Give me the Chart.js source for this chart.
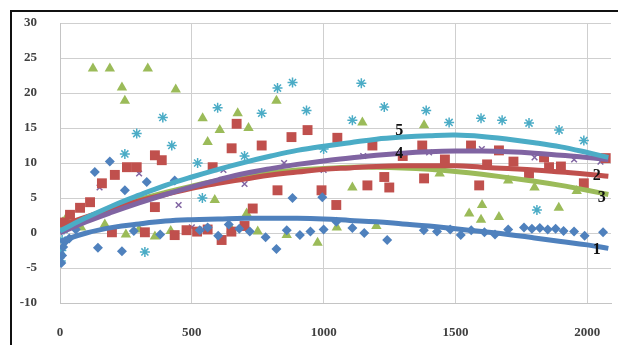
<!DOCTYPE html>
<html lang="en">
<head>
  <meta charset="UTF-8">
  <title>Scatter with trendlines</title>
  <script src="https://cdn.jsdelivr.net/npm/chart.js"></script>
  <style>
    body { margin: 0; background: white; }
    .frame {
      position: absolute;
      left: 10px;
      top: 10px;
      width: 620px;
      height: 340px;
      border-left: 2px solid #111;
      border-top: 2px solid #111;
    }
    .wrap { position: absolute; left: 0; top: 0; width: 618px; height: 345px; }
  </style>
</head>
<body>
  <div class="frame"></div>
  <div class="wrap"><canvas id="chart" width="618" height="345"></canvas></div>
  <script>
    // axis ticks
    const xTicks = [0, 500, 1000, 1500, 2000];
    const yTicks = [-10, -5, 0, 5, 10, 15, 20, 25, 30];

    // series 1 (blue diamonds)
    const blueX = [5, 8, 12, 20, 35, 60, 132, 189, 144, 235, 246, 329, 435, 280, 380, 530, 560, 600, 640, 680, 720, 780, 821, 860, 882, 910, 950, 995, 1000, 1048, 1109, 1154, 1241, 1380, 1430, 1480, 1520, 1560, 1610, 1650, 1700, 1760, 1790, 1820, 1850, 1880, 1910, 1950, 1990, 2060];
    const blueY = [-4.3, -3.2, -2, -1.2, -0.8, 0.5, 8.7, 10.2, -2.1, -2.6, 6.1, 7.3, 7.5, 0.3, -0.2, 0.4, 0.8, -0.4, 1.2, 0.6, 0.2, -0.6, -2.3, 0.4, 5.0, -0.3, 0.2, 5.1, 0.5, 1.6, 0.7, 0, -1, 0.4, 0.2, 0.5, -0.3, 0.4, 0.1, -0.2, 0.5, 0.8, 0.6, 0.7, 0.5, 0.6, 0.3, 0.2, -0.4, 0.1];

    // series 2 (red squares)
    const redX = [15, 38, 76, 114, 159, 208, 254, 291, 360, 386, 360, 197, 322, 435, 480, 520, 560, 579, 613, 650, 651, 670, 700, 731, 765, 825, 878, 939, 992, 1048, 1052, 1166, 1185, 1230, 1249, 1300, 1374, 1381, 1460, 1559, 1590, 1620, 1665, 1720, 1779, 1836, 1855, 1900, 1987, 2070];
    const redY = [1.5, 2.6, 3.6, 4.4, 7.1, 8.3, 9.4, 9.4, 11.1, 10.4, 3.7, 0.1, 0.1, -0.3, 0.4, 0.2, 0.5, 9.4, -1, 0.2, 12.1, 15.6, 1.0, 3.5, 12.5, 6.1, 13.7, 14.7, 6.1, 4.0, 13.6, 6.8, 12.5, 8.0, 6.5, 11.0, 12.5, 7.8, 10.5, 12.5, 6.8, 9.8, 11.8, 10.2, 8.5, 10.8, 9.4, 9.5, 7.1, 10.7];

    // series 3 (green triangles)
    const greenX = [10, 23, 45, 80, 125, 189, 235, 246, 333, 439, 170, 250, 300, 360, 420, 541, 560, 587, 606, 674, 708, 715, 650, 750, 821, 860, 977, 1050, 1109, 1147, 1200, 1381, 1440, 1552, 1597, 1601, 1665, 1700, 1800, 1892, 1960];
    const greenY = [1.5, 2.1, 1.2, 0.8, 23.5, 23.5, 20.8, 18.9, 23.5, 20.5, 1.2, -0.2, 0.5, -0.5, 0.3, 16.4, 13, 4.7, 14.7, 17.1, 2.8, 15, 0.5, 0.2, 18.9, -0.3, -1.4, 0.8, 6.5, 15.8, 1.0, 15.4, 8.5, 2.8, 1.9, 4.0, 2.3, 7.5, 6.5, 3.6, 6.0];

    // series 4 (purple crosses)
    const purpleX = [10, 150, 300, 450, 500, 620, 700, 850, 1000, 1150, 1400, 1600, 1800, 1950, 2050];
    const purpleY = [0.5, 6.5, 8.5, 4, 0.8, 9, 7, 10, 9, 11, 11.5, 12, 10.8, 10.5, 10.2];

    // series 5 (cyan stars)
    const cyanX = [3, 5, 8, 15, 25, 246, 291, 322, 390, 424, 522, 540, 598, 700, 765, 825, 882, 935, 1000, 1109, 1143, 1230, 1389, 1476, 1597, 1677, 1779, 1809, 1893, 1987];
    const cyanY = [-4, -2.5, -1, 0.5, 1.5, 11.3, 14.2, -2.7, 16.5, 12.5, 10, 5, 17.9, 11, 17.1, 20.7, 21.5, 17.5, 12, 16.1, 21.4, 18, 17.5, 15.8, 16.4, 16.1, 15.7, 3.3, 14.7, 13.2];

    // trendlines
    const trendX = [0, 100, 200, 300, 400, 500, 600, 700, 800, 900, 1000, 1100, 1200, 1300, 1400, 1500, 1600, 1700, 1800, 1900, 2000, 2080];
    const trend1 = [-1.2, 0, 0.8, 1.3, 1.7, 1.9, 2.0, 2.1, 2.1, 2.1, 2.0, 1.8, 1.6, 1.3, 1.0, 0.6, 0.2, -0.2, -0.7, -1.2, -1.7, -2.2];
    const trend2 = [1.0, 2.3, 3.5, 4.6, 5.5, 6.4, 7.1, 7.7, 8.3, 8.7, 9.1, 9.3, 9.5, 9.6, 9.6, 9.6, 9.4, 9.2, 9.0, 8.7, 8.4, 8.1];
    const trend3 = [0.5, 2.2, 3.6, 4.8, 5.8, 6.7, 7.5, 8.1, 8.6, 9.0, 9.2, 9.4, 9.4, 9.3, 9.1, 8.8, 8.4, 7.9, 7.4, 6.8, 6.1, 5.5];
    const trend4 = [0, 1.6, 3.0, 4.3, 5.5, 6.6, 7.6, 8.5, 9.2, 9.8, 10.3, 10.7, 11.1, 11.4, 11.6, 11.7, 11.7, 11.6, 11.4, 11.1, 10.8, 10.5];
    const trend5 = [0.3, 2.2, 3.9, 5.4, 6.8, 8.0, 9.1, 10.1, 11.0, 11.8, 12.4, 12.9, 13.4, 13.7, 13.9, 14.0, 13.8, 13.4, 12.9, 12.3, 11.5, 10.8];

    // trendline numbers
    const trendLabels = ['1', '2', '3', '4', '5'];
    const trendLabelX = [2036, 2036, 2055, 1287, 1287];
    const trendLabelY = [-2.4, 8.1, 5.0, 11.3, 14.6];

    const pts = (xs, ys) => xs.map((x, i) => ({ x: x, y: ys[i] }));

    function scatterSet(xs, ys, color, style, r) {
      return {
        data: pts(xs, ys),
        pointStyle: style,
        pointRadius: r,
        backgroundColor: color,
        borderColor: color,
        borderWidth: style === 'star' || style === 'crossRot' ? 1.5 : 0,
        showLine: false,
        order: 10
      };
    }

    function trendSet(ys, color) {
      return {
        data: pts(trendX, ys),
        showLine: true,
        borderColor: color,
        borderWidth: 5,
        pointRadius: 0,
        tension: 0.4,
        fill: false,
        order: 1
      };
    }

    const labelPlugin = {
      id: 'trendLabels',
      afterDatasetsDraw(chart) {
        const ctx = chart.ctx;
        const xs = chart.scales.x, ys = chart.scales.y;
        ctx.save();
        ctx.font = 'bold 16px "Liberation Serif"';
        ctx.fillStyle = '#111';
        ctx.textAlign = 'center';
        ctx.textBaseline = 'middle';
        trendLabels.forEach((t, i) => {
          ctx.fillText(t, xs.getPixelForValue(trendLabelX[i]), ys.getPixelForValue(trendLabelY[i]));
        });
        ctx.restore();
      }
    };

    const tickFont = { family: '"Liberation Serif"', size: 13, weight: 'bold' };

    new Chart(document.getElementById('chart'), {
      type: 'scatter',
      data: {
        datasets: [
          trendSet(trend5, '#4BACC6'),
          trendSet(trend4, '#8064A2'),
          trendSet(trend2, '#C0504D'),
          trendSet(trend3, '#9BBB59'),
          trendSet(trend1, '#4F81BD'),
          scatterSet(blueX, blueY, '#4F81BD', 'rectRot', 5),
          scatterSet(redX, redY, '#C0504D', 'rect', 7),
          scatterSet(greenX, greenY, '#9BBB59', 'triangle', 6),
          scatterSet(purpleX, purpleY, '#8064A2', 'crossRot', 4),
          scatterSet(cyanX, cyanY, '#4BACC6', 'star', 5)
        ]
      },
      options: {
        responsive: false,
        animation: false,
        layout: { padding: { top: 23, right: 6, left: 0, bottom: 0 } },
        plugins: { legend: { display: false }, tooltip: { enabled: false } },
        scales: {
          x: {
            type: 'linear',
            min: 0,
            max: 2090,
            afterBuildTicks: s => { s.ticks = xTicks.map(v => ({ value: v })); },
            afterFit: s => { s.height = 42; s.paddingLeft = 0; s.paddingRight = 0; },
            grid: { color: '#CFCFCF', drawTicks: false },
            border: { color: '#C4C4C4' },
            ticks: {
              padding: 22,
              color: '#404040',
              font: tickFont,
              callback: v => String(v)
            }
          },
          y: {
            min: -10,
            max: 30,
            afterBuildTicks: s => { s.ticks = yTicks.map(v => ({ value: v })); },
            afterFit: s => { s.width = 60; s.paddingTop = 0; s.paddingBottom = 0; },
            grid: { color: '#CFCFCF', drawTicks: false },
            border: { color: '#C4C4C4' },
            ticks: {
              padding: 23,
              color: '#404040',
              font: tickFont,
              callback: v => String(v)
            }
          }
        }
      },
      plugins: [labelPlugin]
    });
  </script>
</body>
</html>
